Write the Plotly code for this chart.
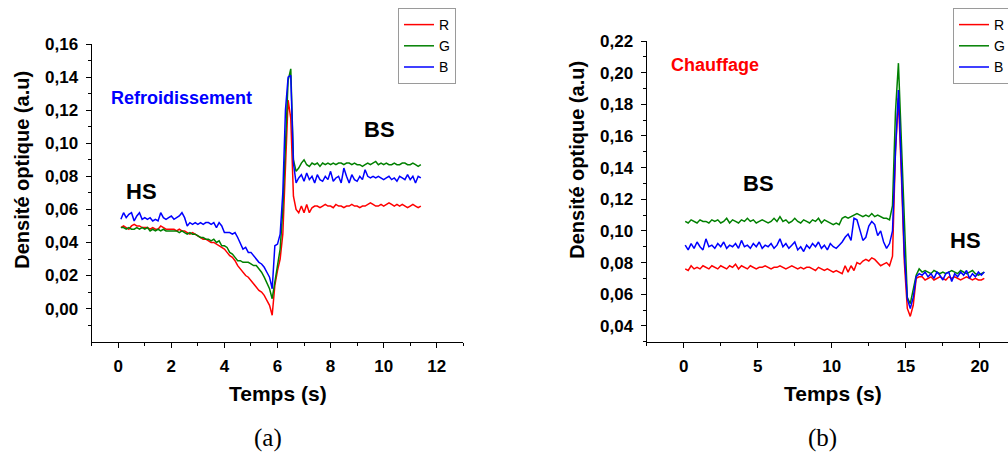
import plotly.graph_objects as go

# ---------------- data : (a) Refroidissement ----------------
T_A_START = 0.1
T_A_STEP = 0.1
R_a = [0.049, 0.050, 0.049, 0.048, 0.050, 0.051, 0.050, 0.050, 0.049, 0.049,
       0.049, 0.048, 0.049, 0.048, 0.048, 0.050, 0.049, 0.048, 0.048, 0.048,
       0.048, 0.047, 0.048, 0.047, 0.047, 0.046, 0.045, 0.046, 0.045, 0.044,
       0.043, 0.042, 0.042, 0.041, 0.040, 0.040, 0.039, 0.038, 0.037, 0.036,
       0.034, 0.032, 0.031, 0.029, 0.026, 0.024, 0.022, 0.020, 0.019, 0.017,
       0.015, 0.013, 0.011, 0.010, 0.008, 0.005, 0.002, -0.004, 0.014, 0.023,
       0.030, 0.045, 0.085, 0.126, 0.115, 0.068, 0.060, 0.058, 0.062, 0.058,
       0.063, 0.058, 0.061, 0.062, 0.062, 0.061, 0.062, 0.063, 0.062, 0.062,
       0.061, 0.063, 0.062, 0.062, 0.061, 0.062, 0.062, 0.063, 0.062, 0.062,
       0.061, 0.062, 0.062, 0.063, 0.064, 0.063, 0.062, 0.062, 0.063, 0.062,
       0.063, 0.064, 0.063, 0.062, 0.063, 0.062, 0.063, 0.062, 0.061, 0.062,
       0.063, 0.062, 0.061, 0.062]
G_a = [0.049, 0.049, 0.048, 0.049, 0.048, 0.048, 0.049, 0.048, 0.049, 0.048,
       0.049, 0.047, 0.048, 0.047, 0.048, 0.047, 0.048, 0.047, 0.047, 0.047,
       0.047, 0.047, 0.046, 0.047, 0.046, 0.045, 0.046, 0.045, 0.045, 0.044,
       0.043, 0.043, 0.042, 0.042, 0.041, 0.042, 0.040, 0.041, 0.038, 0.038,
       0.037, 0.034, 0.033, 0.031, 0.029, 0.029, 0.028, 0.028, 0.028, 0.027,
       0.026, 0.026, 0.024, 0.022, 0.019, 0.015, 0.012, 0.006, 0.016, 0.026,
       0.036, 0.060, 0.100, 0.138, 0.145, 0.090, 0.083, 0.085, 0.088, 0.090,
       0.087, 0.086, 0.088, 0.087, 0.088, 0.086, 0.088, 0.087, 0.088, 0.087,
       0.088, 0.087, 0.088, 0.088, 0.087, 0.088, 0.088, 0.087, 0.088, 0.087,
       0.087, 0.086, 0.087, 0.088, 0.087, 0.088, 0.089, 0.087, 0.088, 0.087,
       0.088, 0.087, 0.087, 0.088, 0.087, 0.087, 0.088, 0.088, 0.087, 0.087,
       0.088, 0.087, 0.086, 0.087]
B_a = [0.054, 0.058, 0.055, 0.057, 0.058, 0.053, 0.056, 0.058, 0.054, 0.055,
       0.054, 0.055, 0.053, 0.054, 0.053, 0.058, 0.055, 0.054, 0.055, 0.056,
       0.054, 0.055, 0.056, 0.058, 0.055, 0.050, 0.052, 0.051, 0.052, 0.051,
       0.052, 0.051, 0.052, 0.052, 0.051, 0.052, 0.049, 0.052, 0.050, 0.046,
       0.046, 0.046, 0.045, 0.046, 0.043, 0.039, 0.036, 0.037, 0.034, 0.034,
       0.032, 0.030, 0.028, 0.027, 0.025, 0.022, 0.019, 0.012, 0.038, 0.039,
       0.045, 0.070, 0.120, 0.140, 0.141, 0.088, 0.076, 0.079, 0.081, 0.077,
       0.082, 0.078, 0.080, 0.076, 0.081, 0.078, 0.077, 0.080, 0.078, 0.083,
       0.077, 0.079, 0.080, 0.076, 0.085, 0.080, 0.076, 0.081, 0.078, 0.077,
       0.080, 0.078, 0.084, 0.080, 0.079, 0.080, 0.079, 0.080, 0.079, 0.078,
       0.079, 0.080, 0.078, 0.079, 0.077, 0.080, 0.079, 0.078, 0.081, 0.078,
       0.080, 0.076, 0.080, 0.079]
t_a = [round(T_A_START + T_A_STEP * i, 3) for i in range(len(R_a))]

# ---------------- data : (b) Chauffage ----------------
T_B_START = 0.1
T_B_STEP = 0.2
R_b = [0.076, 0.075, 0.078, 0.076, 0.077, 0.076, 0.078, 0.077, 0.076, 0.078,
       0.077, 0.076, 0.078, 0.077, 0.076, 0.078, 0.077, 0.079, 0.076, 0.078,
       0.077, 0.076, 0.078, 0.077, 0.076, 0.077, 0.077, 0.078, 0.077, 0.076,
       0.077, 0.077, 0.078, 0.077, 0.076, 0.077, 0.078, 0.077, 0.076, 0.077,
       0.076, 0.077, 0.077, 0.076, 0.075, 0.077, 0.076, 0.075, 0.076, 0.075,
       0.074, 0.075, 0.074, 0.073, 0.078, 0.074, 0.078, 0.075, 0.080, 0.079,
       0.081, 0.082, 0.081, 0.083, 0.082, 0.080, 0.078, 0.079, 0.080, 0.078,
       0.084, 0.150, 0.184, 0.135, 0.080, 0.051, 0.046, 0.053, 0.070, 0.071,
       0.071, 0.069, 0.070, 0.071, 0.069, 0.070, 0.071, 0.070, 0.069, 0.071,
       0.070, 0.071, 0.070, 0.069, 0.070, 0.071, 0.070, 0.069, 0.070, 0.069,
       0.069, 0.070]
G_b = [0.106, 0.105, 0.107, 0.106, 0.105, 0.107, 0.106, 0.106, 0.105, 0.107,
       0.106, 0.107, 0.105, 0.106, 0.108, 0.105, 0.107, 0.106, 0.105, 0.107,
       0.106, 0.108, 0.106, 0.107, 0.105, 0.106, 0.107, 0.106, 0.105, 0.106,
       0.108, 0.106, 0.109, 0.106, 0.107, 0.105, 0.106, 0.108, 0.106, 0.105,
       0.107, 0.106, 0.105, 0.107, 0.106, 0.108, 0.105, 0.107, 0.106, 0.105,
       0.104, 0.105, 0.104, 0.108, 0.109, 0.108, 0.109, 0.110, 0.111, 0.110,
       0.109, 0.110, 0.109, 0.111, 0.109, 0.110, 0.109, 0.108, 0.108, 0.107,
       0.116, 0.175, 0.206, 0.160, 0.104, 0.058, 0.054, 0.062, 0.072, 0.076,
       0.074, 0.075, 0.074, 0.073, 0.075, 0.074, 0.073, 0.074, 0.073, 0.074,
       0.075, 0.074, 0.073, 0.075, 0.074, 0.073, 0.074, 0.075, 0.073, 0.072,
       0.073, 0.074]
B_b = [0.091, 0.088, 0.092, 0.089, 0.093, 0.090, 0.088, 0.095, 0.090, 0.091,
       0.089, 0.092, 0.090, 0.093, 0.089, 0.091, 0.090, 0.092, 0.089, 0.094,
       0.090, 0.091, 0.089, 0.092, 0.090, 0.093, 0.089, 0.091, 0.090, 0.092,
       0.089, 0.091, 0.095, 0.090, 0.092, 0.089, 0.091, 0.093, 0.088, 0.090,
       0.087, 0.091, 0.089, 0.092, 0.090, 0.093, 0.089, 0.091, 0.088, 0.092,
       0.090, 0.089, 0.091, 0.093, 0.096, 0.098, 0.094, 0.108, 0.107, 0.100,
       0.094, 0.096, 0.103, 0.106, 0.104, 0.097, 0.100, 0.093, 0.089, 0.092,
       0.100, 0.150, 0.189, 0.140, 0.085, 0.057, 0.051, 0.058, 0.071, 0.073,
       0.072, 0.074, 0.071, 0.073, 0.070, 0.074, 0.072, 0.069, 0.073, 0.074,
       0.068, 0.073, 0.071, 0.074, 0.072, 0.075, 0.070, 0.073, 0.071, 0.074,
       0.072, 0.074]
t_b = [round(T_B_START + T_B_STEP * i, 3) for i in range(len(R_b))]

SERIES = ["R", "G", "B"]
COLORS = ["#FF0000", "#008000", "#0000FF"]

# tick definitions
XT_A = [0, 2, 4, 6, 8, 10, 12]
XT_A_LBL = ["0", "2", "4", "6", "8", "10", "12"]
XT_A_MINOR = [-1, 1, 3, 5, 7, 9, 11, 13]
YT_A = [0.00, 0.02, 0.04, 0.06, 0.08, 0.10, 0.12, 0.14, 0.16]
YT_A_LBL = ["0,00", "0,02", "0,04", "0,06", "0,08", "0,10", "0,12", "0,14", "0,16"]
YT_A_MINOR = [-0.01, 0.01, 0.03, 0.05, 0.07, 0.09, 0.11, 0.13, 0.15]

XT_B = [0, 5, 10, 15, 20]
XT_B_LBL = ["0", "5", "10", "15", "20"]
XT_B_MINOR = [-2.5, 2.5, 7.5, 12.5, 17.5]
YT_B = [0.04, 0.06, 0.08, 0.10, 0.12, 0.14, 0.16, 0.18, 0.20, 0.22]
YT_B_LBL = ["0,04", "0,06", "0,08", "0,10", "0,12", "0,14", "0,16", "0,18", "0,20", "0,22"]
YT_B_MINOR = [0.03, 0.05, 0.07, 0.09, 0.11, 0.13, 0.15, 0.17, 0.19, 0.21]

W, H = 1008, 459
SANS = "Liberation Sans"

fig = go.Figure()
for name, col, ys in zip(SERIES, COLORS, [R_a, G_a, B_a]):
    fig.add_trace(go.Scatter(x=t_a, y=ys, mode="lines", name=name,
                             line=dict(color=col, width=1.5),
                             xaxis="x", yaxis="y", legend="legend"))
for name, col, ys in zip(SERIES, COLORS, [R_b, G_b, B_b]):
    fig.add_trace(go.Scatter(x=t_b, y=ys, mode="lines", name=name,
                             line=dict(color=col, width=1.5),
                             xaxis="x2", yaxis="y2", legend="legend2"))

tickfont = dict(family=SANS, size=17, color="black", weight="bold")


def axis(domain, rng, tv, tt, minor_vals, anchor):
    return dict(domain=domain, range=rng, anchor=anchor, automargin=False,
                showline=True, linecolor="black", linewidth=1.2,
                showgrid=False, zeroline=False,
                ticks="outside", ticklen=5, tickwidth=1.2, tickcolor="black",
                tickmode="array", tickvals=tv, ticktext=tt,
                tickfont=tickfont, ticklabelstandoff=4,
                minor=dict(tickmode="array", tickvals=minor_vals, ticks="outside",
                           ticklen=3, tickwidth=1.2, tickcolor="black", showgrid=False))


ya_bot = (H - 341.7) / H
legend_style = dict(xanchor="left", y=(H - 8) / H, yanchor="top",
                    bgcolor="white", bordercolor="#9a9a9a", borderwidth=1,
                    font=dict(family=SANS, size=14, color="black"), tracegroupgap=0,
                    itemwidth=30)
fig.update_layout(
    width=W, height=H,
    margin=dict(l=0, r=0, t=0, b=0, autoexpand=False),
    paper_bgcolor="white", plot_bgcolor="white",
    xaxis=axis([91.7 / W, 463.3 / W], [-1, 13], XT_A, XT_A_LBL, XT_A_MINOR, "y"),
    yaxis=axis([ya_bot, (H - 44) / H], [-0.02, 0.16], YT_A, YT_A_LBL, YT_A_MINOR, "x"),
    xaxis2=axis([646.7 / W, 1.0], [-2.5, 21.9], XT_B, XT_B_LBL, XT_B_MINOR, "y2"),
    yaxis2=axis([ya_bot, (H - 41) / H], [0.03, 0.22], YT_B, YT_B_LBL, YT_B_MINOR, "x2"),
    legend=dict(legend_style, x=398 / W),
    legend2=dict(legend_style, x=953 / W),
    showlegend=True,
)

bold = dict(family=SANS, color="black", weight="bold")
ann = []
ann.append(dict(text="Densité optique (a.u)", x=21.7 / W, y=(H - 170) / H, xref="paper", yref="paper",
                textangle=-90, showarrow=False, font=dict(bold, size=20), xanchor="center", yanchor="middle"))
ann.append(dict(text="Densité optique (a.u)", x=576.7 / W, y=(H - 160) / H, xref="paper", yref="paper",
                textangle=-90, showarrow=False, font=dict(bold, size=20), xanchor="center", yanchor="middle"))
ann.append(dict(text="Temps (s)", x=277.5 / W, y=(H - 393) / H, xref="paper", yref="paper",
                showarrow=False, font=dict(bold, size=21), xanchor="center", yanchor="middle"))
ann.append(dict(text="Temps (s)", x=833 / W, y=(H - 393) / H, xref="paper", yref="paper",
                showarrow=False, font=dict(bold, size=21), xanchor="center", yanchor="middle"))
# subfigure captions
ann.append(dict(text="(a)", x=267.5 / W, y=(H - 438) / H, xref="paper", yref="paper", showarrow=False,
                font=dict(family="Liberation Serif", size=25, color="black"), xanchor="center", yanchor="middle"))
ann.append(dict(text="(b)", x=822 / W, y=(H - 438) / H, xref="paper", yref="paper", showarrow=False,
                font=dict(family="Liberation Serif", size=25, color="black"), xanchor="center", yanchor="middle"))
# in-plot labels
ann.append(dict(text="Refroidissement", x=2.39, y=0.1272, xref="x", yref="y", showarrow=False,
                font=dict(family=SANS, size=18, color="#0000FF", weight="bold")))
ann.append(dict(text="HS", x=0.88, y=0.0707, xref="x", yref="y", showarrow=False,
                font=dict(bold, size=22)))
ann.append(dict(text="BS", x=9.86, y=0.108, xref="x", yref="y", showarrow=False,
                font=dict(bold, size=22)))
ann.append(dict(text="Chauffage", x=2.09, y=0.2048, xref="x2", yref="y2", showarrow=False,
                font=dict(family=SANS, size=18, color="#FF0000", weight="bold")))
ann.append(dict(text="BS", x=5.06, y=0.1297, xref="x2", yref="y2", showarrow=False,
                font=dict(bold, size=22)))
ann.append(dict(text="HS", x=19.06, y=0.0937, xref="x2", yref="y2", showarrow=False,
                font=dict(bold, size=22)))
fig.update_layout(annotations=ann)

fig.write_html("out.html", config={"displayModeBar": False},
               post_script="document.body.style.margin='0px';")
